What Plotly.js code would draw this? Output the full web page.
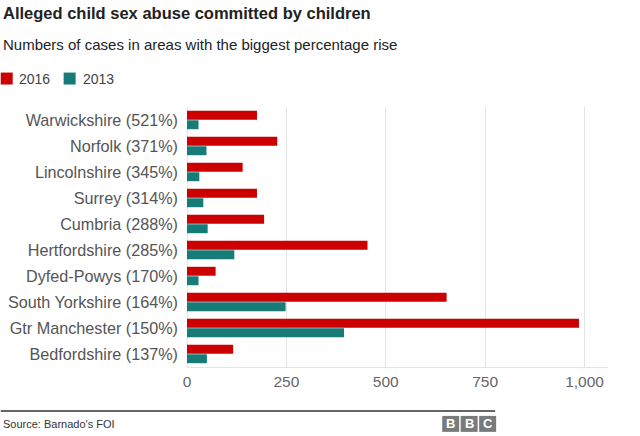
<!DOCTYPE html>
<html>
<head>
<meta charset="utf-8">
<script src="https://cdn.plot.ly/plotly-3.0.1.min.js"></script>
<style>
html,body{margin:0;padding:0;background:#fff;}
#chart{width:640px;height:436px;}
</style>
</head>
<body>
<div id="chart"></div>
<script>
// ---- Data ----
const areas = [
  "Warwickshire (521%)",
  "Norfolk (371%)",
  "Lincolnshire (345%)",
  "Surrey (314%)",
  "Cumbria (288%)",
  "Hertfordshire (285%)",
  "Dyfed-Powys (170%)",
  "South Yorkshire (164%)",
  "Gtr Manchester (150%)",
  "Bedfordshire (137%)"
];
const cases2016 = [176, 227, 140, 176, 194, 454, 72, 653, 986, 116];
const cases2013 = [29, 49, 31, 41, 52, 119, 29, 248, 395, 50];
const xTickVals = [0, 250, 500, 750, 1000];
const xTickText = ["0", "250", "500", "750", "1,000"];

const RED = "#cc0000";
const TEAL = "#177b78";
const FONT = "Liberation Sans, Arial, sans-serif";

// plot area geometry (pixels)
const L = 186.5, R = 32, T = 106.5, B = 69;
const W = 640 - L - R, H = 436 - T - B;
const px = p => (p - L) / W;          // pixel x -> paper x
const py = p => 1 - (p - T) / H;      // pixel y -> paper y

const traces = [
  {type: "bar", orientation: "h", name: "2016", y: areas, x: cases2016,
   marker: {color: RED}, hoverinfo: "x+name"},
  {type: "bar", orientation: "h", name: "2013", y: areas, x: cases2013,
   marker: {color: TEAL}, hoverinfo: "x+name"}
];

const layout = {
  width: 640, height: 436,
  margin: {l: L, r: R, t: T, b: B, pad: 0},
  paper_bgcolor: "#fff", plot_bgcolor: "#fff",
  font: {family: FONT, color: "#555"},
  barmode: "group", bargap: 0.27, bargroupgap: 0.06,
  showlegend: false,
  xaxis: {
    range: [0, 1059], tickvals: xTickVals, ticktext: xTickText,
    showgrid: true, gridcolor: "#e4e4e4", gridwidth: 1,
    zeroline: true, zerolinecolor: "#e4e4e4", zerolinewidth: 1,
    showline: true, linecolor: "#e4e4e4", linewidth: 1,
    ticks: "", tickfont: {size: 15.5, color: "#666"}, fixedrange: true
  },
  yaxis: {
    autorange: "reversed", type: "category",
    showgrid: false, zeroline: false, showline: false,
    ticks: "", ticklabelstandoff: 8,
    tickfont: {size: 16.2, color: "#555"}, fixedrange: true
  },
  shapes: [
    // custom legend squares
    {type: "rect", xref: "paper", yref: "paper", x0: px(0), x1: px(12), y0: py(84), y1: py(72),
     fillcolor: RED, line: {width: 0}},
    {type: "rect", xref: "paper", yref: "paper", x0: px(63), x1: px(75), y0: py(84), y1: py(72),
     fillcolor: TEAL, line: {width: 0}},
    // footer rule
    {type: "line", xref: "paper", yref: "paper", x0: px(0), x1: px(495), y0: py(411), y1: py(411),
     line: {color: "#666", width: 2}},
    // BBC blocks
    {type: "rect", xref: "paper", yref: "paper", x0: px(442), x1: px(459), y0: py(432), y1: py(416),
     fillcolor: "#7a7a7a", line: {width: 0}},
    {type: "rect", xref: "paper", yref: "paper", x0: px(460.5), x1: px(477.5), y0: py(432), y1: py(416),
     fillcolor: "#7a7a7a", line: {width: 0}},
    {type: "rect", xref: "paper", yref: "paper", x0: px(479), x1: px(496), y0: py(432), y1: py(416),
     fillcolor: "#7a7a7a", line: {width: 0}}
  ],
  annotations: [
    {text: "<b>Alleged child sex abuse committed by children</b>", xref: "paper", yref: "paper",
     x: px(0), y: py(12), xanchor: "left", yanchor: "middle", showarrow: false,
     font: {size: 16.5, color: "#222", family: FONT}},
    {text: "Numbers of cases in areas with the biggest percentage rise", xref: "paper", yref: "paper",
     x: px(0), y: py(44), xanchor: "left", yanchor: "middle", showarrow: false,
     font: {size: 15, color: "#222", family: FONT}},
    {text: "2016", xref: "paper", yref: "paper", x: px(16), y: py(78), xanchor: "left", yanchor: "middle",
     showarrow: false, font: {size: 14, color: "#444", family: FONT}},
    {text: "2013", xref: "paper", yref: "paper", x: px(80), y: py(78), xanchor: "left", yanchor: "middle",
     showarrow: false, font: {size: 14, color: "#444", family: FONT}},
    {text: "Source: Barnado's FOI", xref: "paper", yref: "paper", x: px(0), y: py(424),
     xanchor: "left", yanchor: "middle", showarrow: false, font: {size: 11, color: "#333", family: FONT}},
    {text: "<b>B</b>", xref: "paper", yref: "paper", x: px(450.5), y: py(424), xanchor: "center", yanchor: "middle",
     showarrow: false, font: {size: 13, color: "#fff", family: FONT}},
    {text: "<b>B</b>", xref: "paper", yref: "paper", x: px(469), y: py(424), xanchor: "center", yanchor: "middle",
     showarrow: false, font: {size: 13, color: "#fff", family: FONT}},
    {text: "<b>C</b>", xref: "paper", yref: "paper", x: px(487.5), y: py(424), xanchor: "center", yanchor: "middle",
     showarrow: false, font: {size: 13, color: "#fff", family: FONT}}
  ]
};

Plotly.newPlot("chart", traces, layout, {displayModeBar: false, staticPlot: true});
</script>
</body>
</html>
